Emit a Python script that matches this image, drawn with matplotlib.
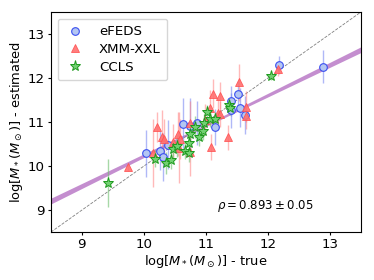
import numpy as np
import matplotlib
matplotlib.use('Agg')
import matplotlib.pyplot as plt

# eFEDS
efeds_true = [10.03, 10.26, 10.31, 10.39, 10.63, 10.75, 10.85, 11.15, 11.40, 11.41, 11.51, 11.55, 11.63, 12.18, 12.89]
efeds_est = [10.29, 10.35, 10.21, 10.49, 10.95, 10.92, 10.99, 10.89, 11.48, 11.27, 11.64, 11.33, 11.16, 12.30, 12.26]
efeds_err = [0.53, 0.45, 0.55, 0.55, 0.60, 0.62, 0.50, 0.40, 0.35, 0.40, 0.30, 0.45, 0.43, 0.20, 0.37]

# XMM-XXL
xxl_true = [9.74, 10.15, 10.21, 10.30, 10.32, 10.47, 10.55, 10.57, 10.58, 10.74, 10.74, 10.98,
            11.06, 11.09, 11.12, 11.19, 11.22, 11.23, 11.36, 11.53, 11.65, 11.65, 12.17]
xxl_est = [9.98, 10.30, 10.89, 10.67, 10.61, 10.55, 10.74, 10.42, 10.61, 10.33, 10.97, 11.05,
           11.33, 10.44, 11.64, 11.20, 11.18, 11.60, 10.65, 11.90, 11.35, 11.14, 12.20]
xxl_err = [0.10, 0.78, 0.35, 0.60, 0.45, 0.40, 0.50, 0.80, 0.45, 0.55, 0.50, 0.35,
           0.40, 0.30, 0.33, 0.35, 0.30, 0.30, 0.28, 0.42, 0.35, 0.30, 0.15]

# CCLS
ccls_true = [9.42, 10.18, 10.35, 10.43, 10.47, 10.53, 10.66, 10.73, 10.73, 10.74, 10.82, 10.89,
             10.96, 10.97, 11.01, 11.06, 11.15, 11.38, 11.39, 12.05]
ccls_est = [9.61, 10.17, 10.06, 10.14, 10.38, 10.45, 10.35, 10.52, 10.29, 10.74, 10.89, 10.65,
            10.80, 10.98, 11.23, 11.08, 11.08, 11.39, 11.31, 12.05]
ccls_err = [0.55, 0.20, 0.25, 0.20, 0.20, 0.25, 0.20, 0.25, 0.20, 0.20, 0.25, 0.20,
            0.20, 0.20, 0.15, 0.20, 0.15, 0.15, 0.15, 0.10]

# linear fit (posterior spread)
fit_slopes = [0.672, 0.688, 0.704]
fit_intercepts = [10.900, 10.925, 10.950]  # value at x = 11
rho_text = r'$\rho = 0.893 \pm 0.05$'

fig = plt.figure(figsize=(3.74, 2.8), dpi=100)
ax = fig.add_axes([0.136, 0.171, 0.829, 0.786])

xx = np.linspace(8.5, 13.5, 200)
lines = np.array([a + b * (xx - 11) for a in fit_intercepts for b in fit_slopes])
ax.fill_between(xx, lines.min(axis=0), lines.max(axis=0), color='#b068c0', alpha=0.75, lw=0, zorder=1)
ax.plot([8.5, 13.5], [8.5, 13.5], ls='--', color='gray', lw=0.6, zorder=2)

# error bars
ax.errorbar(efeds_true, efeds_est, yerr=efeds_err, fmt='none', ecolor='#6f7ff2',
            elinewidth=1, alpha=0.55, zorder=2.5)
ax.errorbar(xxl_true, xxl_est, yerr=xxl_err, fmt='none', ecolor='#ff8080',
            elinewidth=1, alpha=0.55, zorder=2.5)
ax.errorbar(ccls_true, ccls_est, yerr=ccls_err, fmt='none', ecolor='#6cbf6c',
            elinewidth=1, alpha=0.6, zorder=2.5)

# markers
ax.plot(efeds_true, efeds_est, 'o', ms=5.5, mfc='#b4c6f2', mec='#3a4ff0', mew=0.8,
        label='eFEDS', zorder=3)
ax.plot(xxl_true, xxl_est, '^', ms=6, mfc='#ff7070', mec='#ff5050', mew=0.6,
        alpha=0.9, label='XMM-XXL', zorder=3)
ax.plot(ccls_true, ccls_est, '*', ms=8, mfc='#72d072', mec='#1e9a1e', mew=0.7,
        label='CCLS', zorder=4)

ax.set_xlim(8.5, 13.5)
ax.set_ylim(8.5, 13.5)
ax.set_xticks([9, 10, 11, 12, 13])
ax.set_yticks([9, 10, 11, 12, 13])
ax.tick_params(labelsize=9.6, length=2.5, pad=2)
ax.set_xlabel(r'log[$M_*(M_\odot)$] - true', fontsize=9.4, labelpad=1)
ax.set_ylabel(r'log[$M_*(M_\odot)$] - estimated', fontsize=9.4, labelpad=2)
ax.text(11.18, 9.09, rho_text, fontsize=8.5, va='center', ha='left')

ax.legend(loc='upper left', fontsize=9.6, handletextpad=1.0, borderpad=0.5,
          labelspacing=0.35, handlelength=1.6)

fig.savefig('out.png', dpi=100)
